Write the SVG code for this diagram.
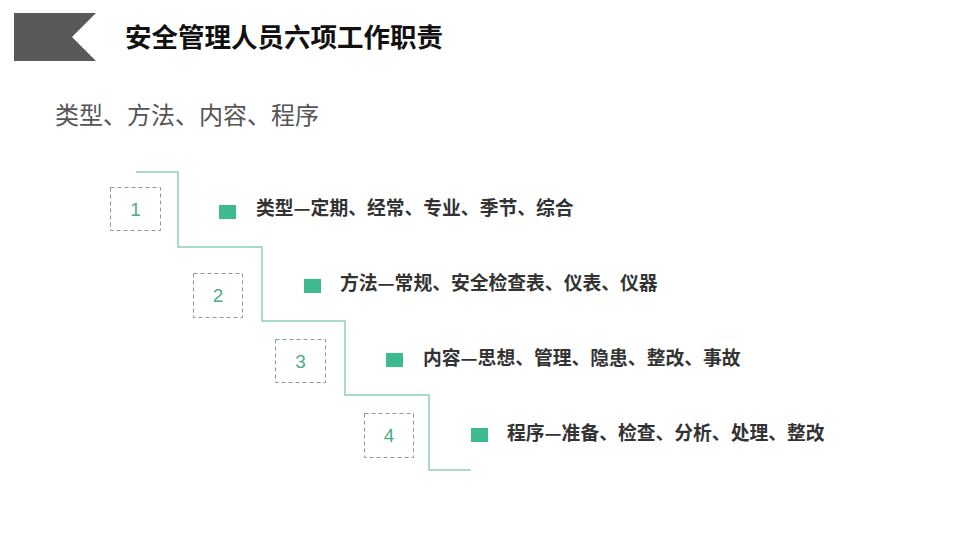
<svg xmlns="http://www.w3.org/2000/svg" width="960" height="540" viewBox="0 0 960 540">
<style>
.title{font-family:"Noto Sans CJK SC","Noto Sans",sans-serif;font-size:26.5px;font-weight:bold;fill:#111}
.sub{font-family:"Noto Sans CJK SC","Noto Sans",sans-serif;font-size:24px;fill:#555}
.box{fill:none;stroke:#8a9a94;stroke-width:1;stroke-dasharray:4 3}
.num{font-family:"Liberation Sans","Noto Sans",sans-serif;font-size:19px;fill:#4faa8a;text-anchor:middle;dominant-baseline:central}
.bullet{fill:#3dba8e}
.item{font-family:"Noto Sans CJK SC","Noto Sans",sans-serif;font-size:18.8px;font-weight:bold;fill:#333}
.stair{fill:none;stroke:#8fcfb7;stroke-width:1.5}
</style>
<rect width="960" height="540" fill="#fff"/>
<g id="header">
<polygon points="14,13 96,13 72,37 96,61 14,61" fill="#595959"/>
<text class="title" x="125" y="47">安全管理人员六项工作职责</text>
</g>
<text class="sub" x="55" y="124">类型、方法、内容、程序</text>
<g id="connectors">
<polyline class="stair" points="136,172 178,172 178,247 262,247 262,321 345,321 345,395 429,395 429,470 471,470"/>
</g>
<g id="step1">
<rect class="box" x="110.5" y="187.5" width="50" height="43"/>
<text class="num" x="135.5" y="209">1</text>
<rect class="bullet" x="219" y="205" width="17" height="14"/>
<text class="item" x="256" y="215">类型—定期、经常、专业、季节、综合</text>
</g>
<g id="step2">
<rect class="box" x="193.5" y="273.5" width="49" height="44"/>
<text class="num" x="218" y="295.5">2</text>
<rect class="bullet" x="304" y="279" width="17" height="14"/>
<text class="item" x="340" y="290">方法—常规、安全检查表、仪表、仪器</text>
</g>
<g id="step3">
<rect class="box" x="275.5" y="339.5" width="50" height="43"/>
<text class="num" x="300.5" y="361">3</text>
<rect class="bullet" x="386" y="353" width="17" height="14"/>
<text class="item" x="423" y="365">内容—思想、管理、隐患、整改、事故</text>
</g>
<g id="step4">
<rect class="box" x="364.5" y="413.5" width="49" height="44"/>
<text class="num" x="389" y="435.5">4</text>
<rect class="bullet" x="471" y="428" width="17" height="14"/>
<text class="item" x="507" y="440">程序—准备、检查、分析、处理、整改</text>
</g>
</svg>
